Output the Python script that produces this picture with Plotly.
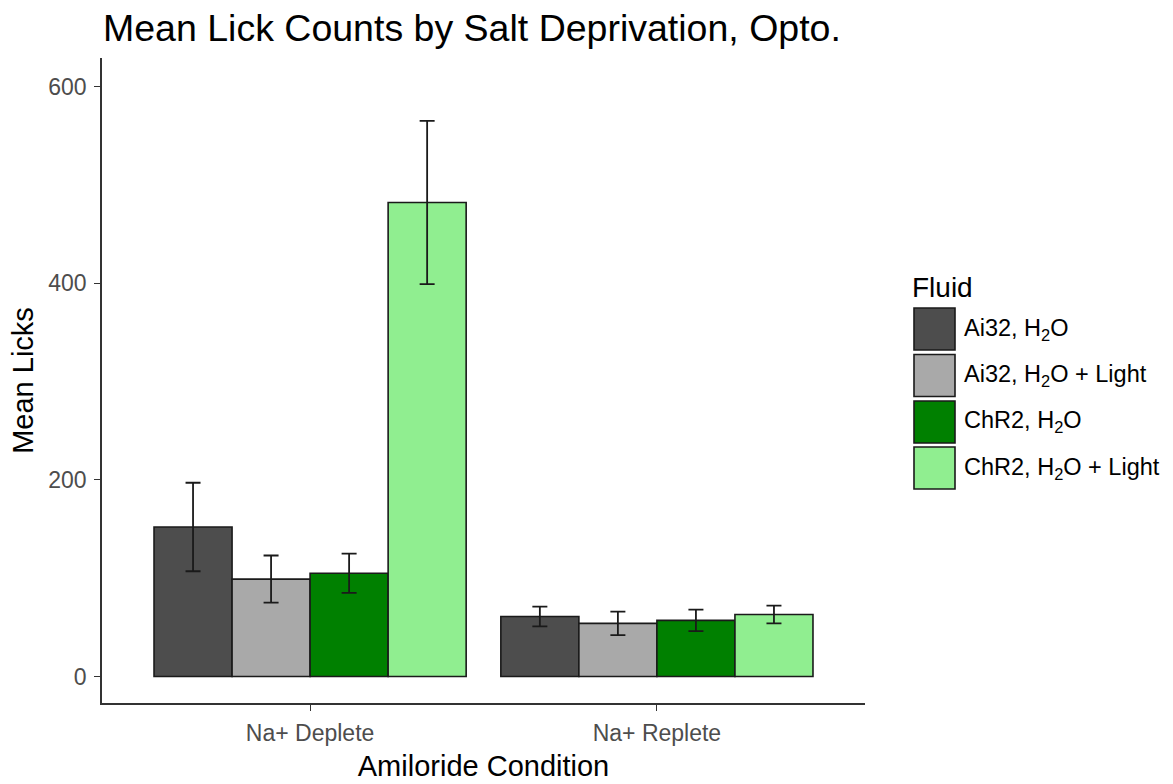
import plotly.graph_objects as go

# Amiloride conditions on the x axis
conditions = ["Na+ Deplete", "Na+ Replete"]

# Fluid groups (legend labels) and their fill colours
fluids = [
    "Ai32, H<sub>2</sub>O",
    "Ai32, H<sub>2</sub>O + Light",
    "ChR2, H<sub>2</sub>O",
    "ChR2, H<sub>2</sub>O + Light",
]
fill_colors = ["#4D4D4D", "#A9A9A9", "#008000", "#90EE90"]

# Mean lick counts per fluid group, one value per condition
ai32_h2o_mean = [152, 61]
ai32_light_mean = [99, 54]
chr2_h2o_mean = [105, 57]
chr2_light_mean = [482, 63]

# Standard errors per fluid group
ai32_h2o_se = [45, 10]
ai32_light_se = [24, 12]
chr2_h2o_se = [20, 11]
chr2_light_se = [83, 9]

y_ticks = [0, 200, 400, 600]

means = [ai32_h2o_mean, ai32_light_mean, chr2_h2o_mean, chr2_light_mean]
errors = [ai32_h2o_se, ai32_light_se, chr2_h2o_se, chr2_light_se]

FONT = "Liberation Sans, Arial, sans-serif"
W, H = 1173, 784
L, R, T, B = 102, 308, 58, 81
pw, ph = W - L - R, H - T - B

fig = go.Figure()
for name, m, e, c in zip(fluids, means, errors, fill_colors):
    fig.add_trace(go.Bar(
        x=conditions, y=m, name=name,
        marker=dict(color=c, line=dict(color="#1A1A1A", width=1.6)),
        error_y=dict(type="data", array=e, visible=True,
                     color="#1A1A1A", thickness=1.8, width=7.5),
        showlegend=False,
    ))

# Legend drawn as large keys beside the panel
def px_to_paper_x(px):
    return (px - L) / pw

def px_to_paper_y(py):
    return (H - B - py) / ph

shapes = []
annotations = []
annotations.append(dict(
    text="Fluid", xref="paper", yref="paper",
    x=px_to_paper_x(910), y=px_to_paper_y(287),
    xanchor="left", yanchor="middle", showarrow=False,
    font=dict(family=FONT, size=28, color="#000000"),
))
key_centers = [329, 375.5, 422, 468]
for name, c, cy in zip(fluids, fill_colors, key_centers):
    shapes.append(dict(
        type="rect", xref="paper", yref="paper",
        x0=px_to_paper_x(914), x1=px_to_paper_x(955),
        y0=px_to_paper_y(cy + 21), y1=px_to_paper_y(cy - 21),
        fillcolor=c, line=dict(color="#1A1A1A", width=1.6),
    ))
    annotations.append(dict(
        text=name, xref="paper", yref="paper",
        x=px_to_paper_x(962), y=px_to_paper_y(cy),
        xanchor="left", yanchor="middle", showarrow=False,
        font=dict(family=FONT, size=23.5, color="#000000"),
    ))

fig.update_layout(
    width=W, height=H,
    margin=dict(l=L, r=R, t=T, b=B, autoexpand=False),
    paper_bgcolor="white", plot_bgcolor="white",
    barmode="group", bargap=0.1, bargroupgap=0.0,
    title=dict(
        text="Mean Lick Counts by Salt Deprivation, Opto.",
        x=103 / W, xanchor="left", y=1 - 28 / H, yanchor="middle",
        font=dict(family=FONT, size=37.5, color="#000000"),
    ),
    xaxis=dict(
        range=[-0.6, 1.6], showline=True, linecolor="#333333", linewidth=1.6,
        ticks="outside", ticklen=6, tickcolor="#333333", tickwidth=1.4,
        ticklabelstandoff=3, automargin=False,
        tickfont=dict(family=FONT, size=23, color="#4D4D4D"),
        title=dict(text="Amiloride Condition", standoff=10,
                   font=dict(family=FONT, size=29, color="#000000")),
        showgrid=False, zeroline=False,
    ),
    yaxis=dict(
        range=[-27, 629], showline=True, linecolor="#333333", linewidth=1.6,
        tickvals=y_ticks, ticks="outside", ticklen=6, tickcolor="#333333",
        tickwidth=1.4, ticklabelstandoff=3, automargin=False,
        tickfont=dict(family=FONT, size=23, color="#4D4D4D"),
        title=dict(text="Mean Licks", standoff=6,
                   font=dict(family=FONT, size=29, color="#000000")),
        showgrid=False, zeroline=False,
    ),
    shapes=shapes,
    annotations=annotations,
)

fig.write_html("out.html")
